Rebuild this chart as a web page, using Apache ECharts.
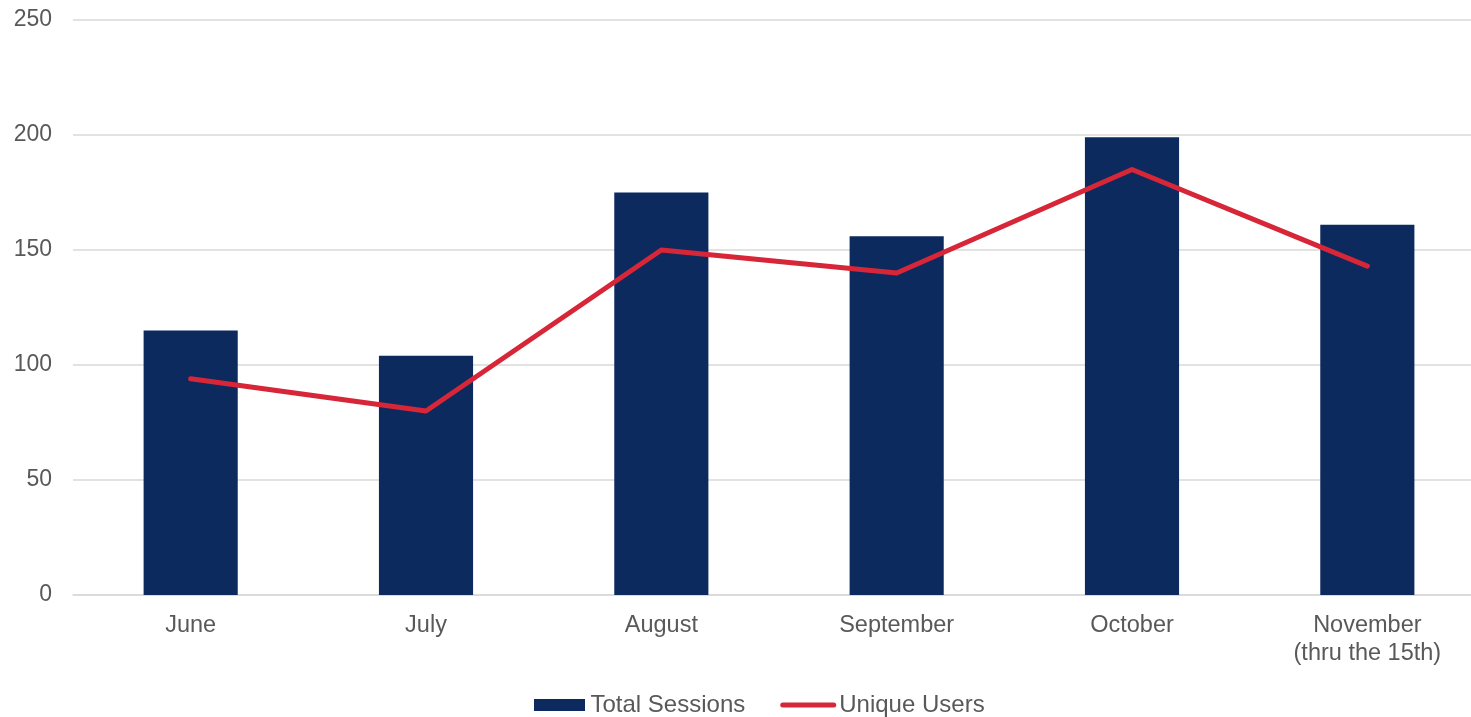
<!DOCTYPE html>
<html>
<head>
<meta charset="utf-8">
<script src="https://cdn.jsdelivr.net/npm/echarts@6/dist/echarts.min.js"></script>
<style>
  html, body { margin: 0; padding: 0; background: #ffffff; }
  #chart { width: 1471px; height: 717px; }
</style>
</head>
<body>
<div id="chart"></div>
<script>
// Monthly activity: sessions as bars, unique users as a line
const months = ['June', 'July', 'August', 'September', 'October', 'November\n(thru the 15th)'];
const totalSessions = [115, 104, 175, 156, 199, 161];
const uniqueUsers = [94, 80, 150, 140, 185, 143];
const yTicks = { min: 0, max: 250, interval: 50 };

const textColor = '#595959';
const fontFamily = '"Liberation Sans", Arial, sans-serif';

const chart = echarts.init(document.getElementById('chart'), null, { renderer: 'canvas' });

chart.setOption({
  animation: false,
  backgroundColor: '#ffffff',
  textStyle: { fontFamily: fontFamily },
  // plot runs slightly past the right edge of the canvas
  grid: {
    left: 73, width: 1412, top: 20, bottom: 122,
    containLabel: false,
    outerBoundsMode: 'none'
  },
  legend: {
    top: 693,
    left: 534,
    padding: 0,
    itemGap: 35,
    itemWidth: 56,
    itemHeight: 12,
    textStyle: { color: textColor, fontSize: 24, fontFamily: fontFamily, padding: [0, 0, 0, -2] },
    data: [
      { name: 'Total Sessions', icon: 'path://M0,0 H51 V12 H0 Z' },
      { name: 'Unique Users', icon: 'path://M2.5,0 H53.5 A2.5,2.5 0 0 1 53.5,5 H2.5 A2.5,2.5 0 0 1 2.5,0 Z' }
    ]
  },
  xAxis: {
    type: 'category',
    data: months,
    axisLine: { show: true, lineStyle: { color: '#d9d9d9', width: 1.5 } },
    axisTick: { show: false },
    axisLabel: {
      color: textColor,
      fontSize: 23.5,
      lineHeight: 28,
      margin: 17,
      fontFamily: fontFamily
    }
  },
  yAxis: {
    type: 'value',
    min: yTicks.min,
    max: yTicks.max,
    interval: yTicks.interval,
    axisLine: { show: false },
    axisTick: { show: false },
    axisLabel: { color: textColor, fontSize: 23, margin: 21, fontFamily: fontFamily },
    splitLine: { lineStyle: { color: '#d9d9d9', width: 1.5 } }
  },
  series: [
    {
      name: 'Total Sessions',
      type: 'bar',
      data: totalSessions,
      barWidth: '40%',
      itemStyle: { color: '#0c2a5e' }
    },
    {
      name: 'Unique Users',
      type: 'line',
      data: uniqueUsers,
      showSymbol: false,
      symbol: 'none',
      lineStyle: { color: '#d62637', width: 5, cap: 'round', join: 'round' },
      itemStyle: { color: '#d62637' }
    }
  ]
});
</script>
</body>
</html>
